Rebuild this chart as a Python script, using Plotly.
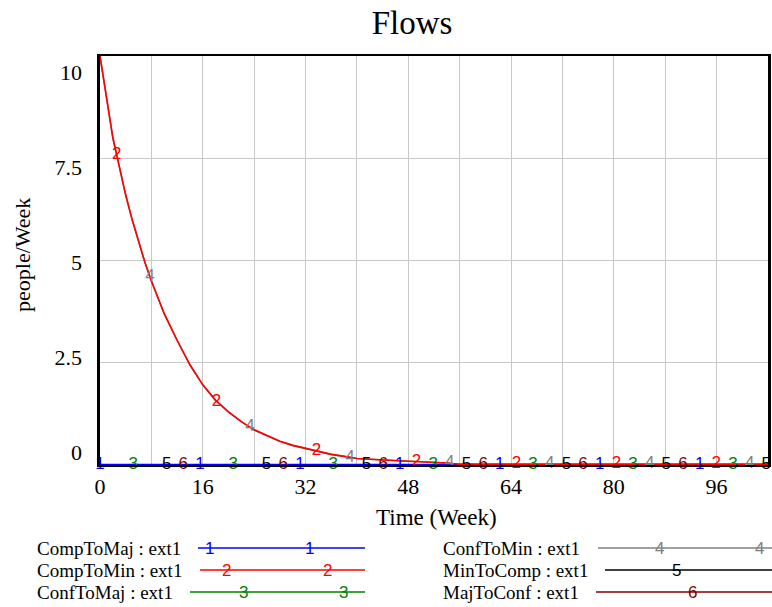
import numpy as np
import plotly.graph_objects as go

# ---------------- data ----------------
weeks = [0, 1, 2, 3, 4, 5, 6, 7, 8, 9, 10, 12, 14, 16, 18, 20, 22, 24, 26, 28,
         30, 32, 34, 36, 38, 40, 42, 44, 46, 48, 50, 52, 54, 56, 58, 60, 64,
         68, 72, 76, 80, 84, 88, 92, 96, 100, 104]

comp_to_min = [10.0, 9.0, 8.0, 7.3, 6.6, 6.0, 5.45, 4.95, 4.5, 4.1, 3.7, 3.05,
               2.45, 1.96, 1.58, 1.3, 1.06, 0.86, 0.71, 0.58, 0.48, 0.41, 0.33,
               0.26, 0.21, 0.16, 0.14, 0.12, 0.1, 0.09, 0.08, 0.07, 0.05, 0.02,
               0.02, 0.02, 0.02, 0.02, 0.02, 0.02, 0.02, 0.02, 0.02, 0.02, 0.02,
               0.02, 0.02]
# ConfToMin lies exactly under CompToMin in the picture
conf_to_min = [10.0, 9.0, 8.0, 7.3, 6.6, 6.0, 5.45, 4.95, 4.5, 4.1, 3.7, 3.05,
               2.45, 1.96, 1.58, 1.3, 1.06, 0.86, 0.71, 0.58, 0.48, 0.41, 0.33,
               0.26, 0.21, 0.16, 0.14, 0.12, 0.1, 0.09, 0.08, 0.07, 0.05, 0.02,
               0.02, 0.02, 0.02, 0.02, 0.02, 0.02, 0.02, 0.02, 0.02, 0.02, 0.02,
               0.02, 0.02]
comp_to_maj = [0.0] * len(weeks)
conf_to_maj = [0.0] * len(weeks)
min_to_comp = [0.0] * len(weeks)
maj_to_conf = [0.0] * len(weeks)

series_names = ["CompToMaj : ext1", "CompToMin : ext1", "ConfToMaj : ext1",
                "ConfToMin : ext1", "MinToComp : ext1", "MajToConf : ext1"]
series_values = [comp_to_maj, comp_to_min, conf_to_maj, conf_to_min,
                 min_to_comp, maj_to_conf]
series_colors = ["#0000FF", "#FF0000", "#008000", "#808080", "#000000", "#800000"]
series_widths = [2.5, 1.6, 2, 1.6, 2, 2]

y_tick_values = [0, 2.5, 5, 7.5, 10]
y_tick_labels = ["0", "2.5", "5", "7.5", "10"]
x_tick_values = list(range(0, 105, 8))
x_tick_labels = [str(v) if v % 16 == 0 else "" for v in x_tick_values]

# ---------------- layout geometry ----------------
W, H = 772, 607
L, R, T, B = 100, 4, 56, 142
PW, PH = W - L - R, H - T - B
SERIF = "Liberation Serif, Times New Roman, serif"
SANS = "Liberation Sans, Arial, sans-serif"

def px_x(px):
    return (px - L) / PW

def px_y(py):
    return (H - B - py) / PH

fig = go.Figure()

# lines (drawing order so that red is on top, blue on top of other zero lines)
order = [3, 5, 4, 2, 0, 1]
for i in order:
    fig.add_trace(go.Scatter(x=weeks, y=series_values[i], mode="lines",
                             line=dict(color=series_colors[i], width=series_widths[i]),
                             showlegend=False, hoverinfo="skip"))

# Vensim-style numeral markers along each line
step = 15.56
offset = step / 6
for i in [3, 5, 4, 2, 0, 1]:
    mt = np.arange(i * offset, 104.01, step)
    my = np.interp(mt, weeks, series_values[i])
    fig.add_trace(go.Scatter(x=mt, y=my, mode="text", text=[str(i + 1)] * len(mt),
                             textposition="middle center",
                             textfont=dict(family=SANS, size=17, color=series_colors[i]),
                             showlegend=False, hoverinfo="skip", cliponaxis=False))

# invisible trace to carry the label axis
fig.add_trace(go.Scatter(x=[None], y=[None], yaxis="y2", showlegend=False))

# y tick labels spread inside the frame like Vensim does
lab_pos = [0.32 + v * 0.929 for v in y_tick_values]

fig.update_layout(
    width=W, height=H,
    margin=dict(l=L, r=R, t=T, b=B, autoexpand=False),
    paper_bgcolor="white", plot_bgcolor="white",
    title=dict(text="Flows", x=412 / W, xref="container",
               xanchor="center", y=1 - 22 / H, yanchor="middle", automargin=False,
               font=dict(family=SERIF, size=33, color="black")),
    xaxis=dict(range=[0, 104], tickvals=x_tick_values, ticktext=x_tick_labels,
               showgrid=True, gridcolor="#C8C8C8", gridwidth=1,
               showline=True, linecolor="black", linewidth=2, mirror=True,
               ticks="", zeroline=False, ticklabelstandoff=1, automargin=False,
               tickfont=dict(family=SERIF, size=22, color="black")),
    yaxis=dict(range=[0, 10], tickvals=y_tick_values, showticklabels=False,
               showgrid=True, gridcolor="#C8C8C8", gridwidth=1,
               showline=True, linecolor="black", linewidth=3, mirror=True,
               ticks="", zeroline=False, automargin=False),
    yaxis2=dict(range=[0, 10], overlaying="y", side="left", tickvals=lab_pos,
                ticktext=y_tick_labels, showgrid=False, showline=False,
                zeroline=False, ticks="", ticklabelstandoff=17, automargin=False,
                tickfont=dict(family=SERIF, size=22, color="black")),
)

# axis titles
fig.add_annotation(text="Time (Week)", x=px_x(436), y=px_y(517), xref="paper", yref="paper",
                   xanchor="center", yanchor="middle", showarrow=False,
                   font=dict(family=SERIF, size=23, color="black"))
fig.add_annotation(text="people/Week", x=px_x(22), y=px_y(255), xref="paper", yref="paper",
                   xanchor="center", yanchor="middle", showarrow=False, textangle=-90,
                   font=dict(family=SERIF, size=22, color="black"))

# custom legend
leg_text_x = [35, 35, 35, 441, 441, 441]
leg_y = [548, 570, 592, 548, 570, 592]
leg_line = [(198, 365), (200, 365), (190, 365), (598, 772), (605, 772), (596, 772)]
leg_nums = [[209, 309], [226, 327], [243, 343], [659, 759], [676], [692]]
for i in range(6):
    fig.add_annotation(text=series_names[i], x=px_x(leg_text_x[i]), y=px_y(leg_y[i]),
                       xref="paper", yref="paper", xanchor="left", yanchor="middle",
                       showarrow=False, font=dict(family=SERIF, size=19, color="black"))
    x0, x1 = leg_line[i]
    fig.add_shape(type="line", xref="paper", yref="paper",
                  x0=px_x(x0), x1=px_x(x1), y0=px_y(leg_y[i]), y1=px_y(leg_y[i]),
                  line=dict(color=series_colors[i], width=1.5))
    for nx in leg_nums[i]:
        fig.add_annotation(text=str(i + 1), x=px_x(nx), y=px_y(leg_y[i]),
                           xref="paper", yref="paper", xanchor="center", yanchor="middle",
                           showarrow=False,
                           font=dict(family=SANS, size=17, color=series_colors[i]))

fig.write_html("out.html", config={"displayModeBar": False},
               post_script="document.body.style.margin='0px';")
